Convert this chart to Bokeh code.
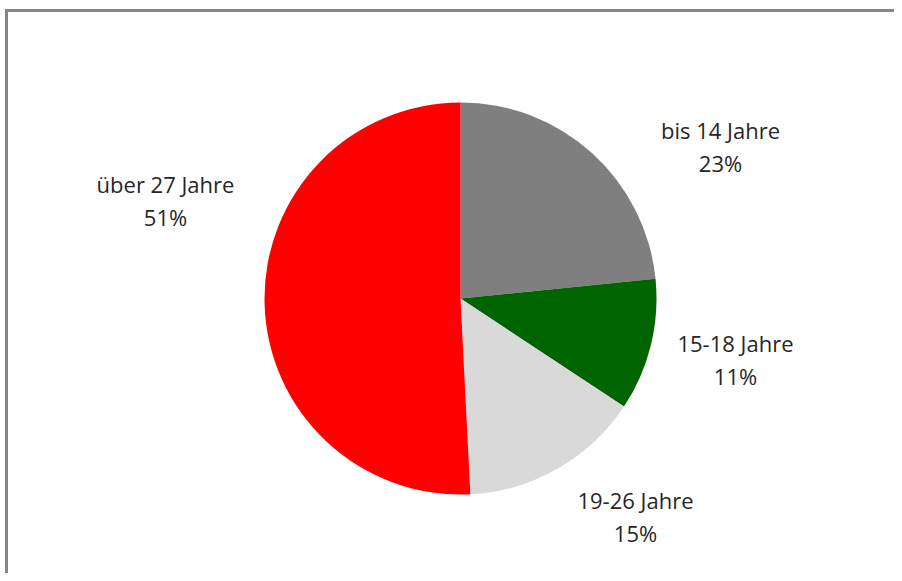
import math
from bokeh.plotting import figure
from bokeh.models import Range1d, BoxAnnotation, ColumnDataSource
from bokeh.core.properties import value
from bokeh.embed import file_html
from bokeh.resources import INLINE

# ---- data ----
categories = ["bis 14 Jahre", "15-18 Jahre", "19-26 Jahre", "über 27 Jahre"]
shares = [23.4, 10.9, 14.9, 50.8]
colors = ["#7f7f7f", "#006400", "#d9d9d9", "#ff0000"]

# ---- layout (pixels) ----
W, H = 894, 573
CX, CY, R = 460, 275, 196
label_x = [720, 735, 635, 165]
label_y = [427, 214, 57, 373]

total = sum(shares)
starts, ends, labels = [], [], []
cum = 0.0
for c, s in zip(categories, shares):
    a0 = math.pi / 2 - 2 * math.pi * cum / total
    cum += s
    a1 = math.pi / 2 - 2 * math.pi * cum / total
    starts.append(a0)
    ends.append(a1)
    labels.append(f"{c}\n{round(100 * s / total)}%")

src = ColumnDataSource(dict(start=starts, end=ends, color=colors,
                            lx=label_x, ly=label_y, label=labels))

p = figure(width=W, height=H, output_backend="svg", toolbar_location=None,
           x_range=Range1d(0, W), y_range=Range1d(0, H), min_border=0)
p.axis.visible = False
p.grid.visible = False
p.outline_line_color = None
p.background_fill_color = "white"
p.border_fill_color = "white"

p.wedge(x=CX, y=CY, radius=R, start_angle="start", end_angle="end",
        direction="clock", fill_color="color", line_color=None, source=src)

p.text(x="lx", y="ly", text="label", source=src, text_align="center",
       text_baseline="middle", text_font=value("Open Sans"),
       text_font_size="22px", text_color="#262626", text_line_height=1.08)

# chart-area frame (left and top edges only; the rest is cut off in the original)
for box in (
    BoxAnnotation(left=4.5, right=7.5, top=H - 8.5, bottom=-50),
    BoxAnnotation(left=4.5, right=W + 50, top=H - 8.5, bottom=H - 11.5),
):
    box.fill_color = "#868686"
    box.fill_alpha = 1.0
    box.line_color = None
    p.add_layout(box)

open("out.html", "w").write(file_html(p, INLINE))
